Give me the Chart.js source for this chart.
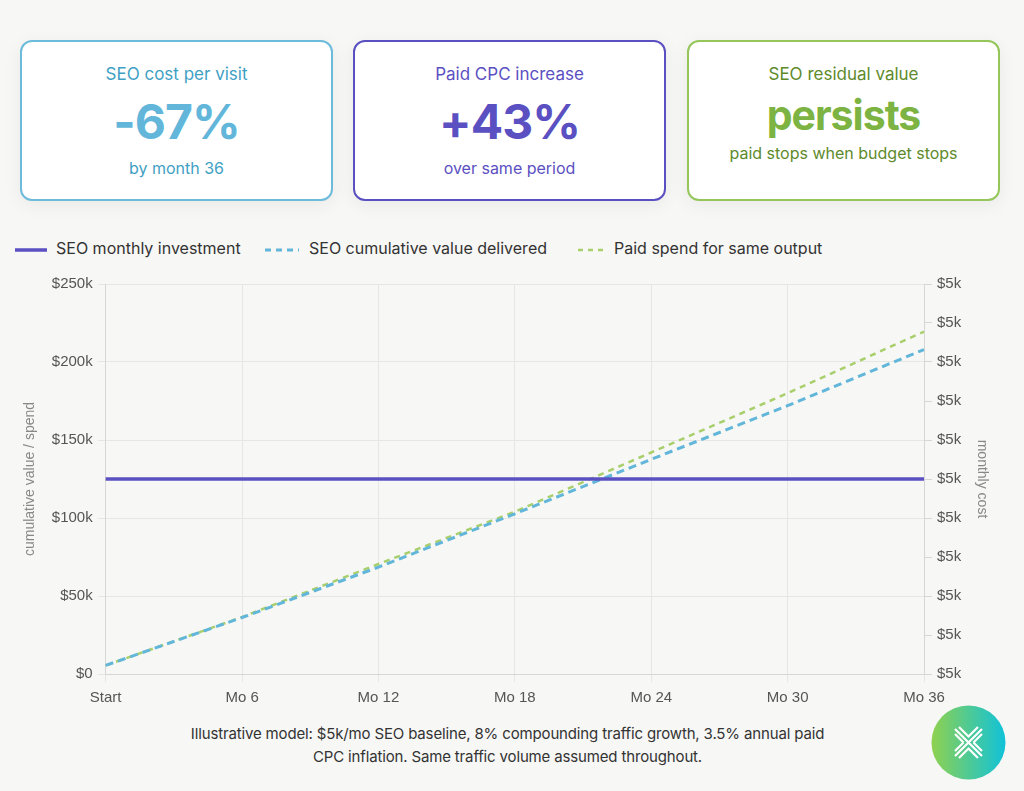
<!DOCTYPE html>
<html>
<head>
<meta charset="utf-8">
<script src="https://cdn.jsdelivr.net/npm/chart.js@4.4.1/dist/chart.umd.min.js"></script>
<style>
  html, body { margin: 0; padding: 0; }
  body {
    width: 1024px; height: 791px; overflow: hidden;
    background: #f7f7f5; position: relative;
    font-family: Inter, "Noto Sans", sans-serif;
  }
  .card {
    position: absolute; top: 40px; width: 313px; height: 161px;
    background: #fff; border: 2px solid; border-radius: 12px;
    box-shadow: 0 4px 18px rgba(0,0,0,0.06);
    text-align: center; box-sizing: border-box;
  }
  .card .t { position: absolute; left: 0; right: 0; top: 22px; font-size: 17px; }
  .card .v { position: absolute; left: 0; right: 0; top: 50px; font-size: 48px; font-weight: 700; letter-spacing: -1px; }
  .card .s { position: absolute; left: 0; right: 0; top: 116px; font-size: 16px; }
  #legend { position: absolute; left: 15px; top: 238px; font-size: 16px; color: #333; white-space: nowrap; }
  #legend svg { position: absolute; top: 9px; }
  #legend span.lbl { position: absolute; top: 0; }
  #wrap { position: absolute; left: 0; top: 270px; width: 1024px; height: 444px; }
  #caption {
    position: absolute; left: 100px; width: 815px; top: 722px;
    text-align: center; font-size: 15px; line-height: 23px; color: #333;
    letter-spacing: -0.15px; white-space: nowrap;
  }
  #logo { position: absolute; left: 931px; top: 705px; width: 75px; height: 75px; }
</style>
</head>
<body>

<div class="card" style="left:20px; border-color:#6dbbdb;">
  <div class="t" style="color:#3f9fc4;">SEO cost per visit</div>
  <div class="v" style="color:#62b6da;">-67%</div>
  <div class="s" style="color:#3f9fc4;">by month 36</div>
</div>
<div class="card" style="left:353px; border-color:#5b50c2;">
  <div class="t" style="color:#5b50c2;">Paid CPC increase</div>
  <div class="v" style="color:#5b50c2;">+43%</div>
  <div class="s" style="color:#5b50c2;">over same period</div>
</div>
<div class="card" style="left:687px; border-color:#94c65a;">
  <div class="t" style="color:#5e8a2c;">SEO residual value</div>
  <div class="v" style="color:#7cb342; font-size:41px; top:48px;">persists</div>
  <div class="s" style="color:#5e8a2c; top:101px;">paid stops when budget stops</div>
</div>

<div id="legend">
  <svg style="left:0" width="34" height="6"><line x1="0" y1="3" x2="32" y2="3" stroke="#5b50c2" stroke-width="3.5"/></svg>
  <span class="lbl" style="left:41px">SEO monthly investment</span>
  <svg style="left:250px" width="34" height="6"><line x1="0" y1="3" x2="34" y2="3" stroke="#62b6da" stroke-width="3" stroke-dasharray="6,5"/></svg>
  <span class="lbl" style="left:294px">SEO cumulative value delivered</span>
  <svg style="left:563px" width="34" height="6"><line x1="0" y1="3" x2="30" y2="3" stroke="#a8cf6b" stroke-width="2.5" stroke-dasharray="5,5"/></svg>
  <span class="lbl" style="left:599px">Paid spend for same output</span>
</div>

<div id="wrap"><canvas id="myChart"></canvas></div>

<div id="caption">Illustrative model: $5k/mo SEO baseline, 8% compounding traffic growth, 3.5% annual paid<br>CPC inflation. Same traffic volume assumed throughout.</div>

<svg id="logo" viewBox="0 0 75 75">
  <defs>
    <linearGradient id="lg" x1="0" y1="0" x2="1" y2="0">
      <stop offset="0" stop-color="#8fd14f"/>
      <stop offset="1" stop-color="#10c2d9"/>
    </linearGradient>
  </defs>
  <circle cx="37.5" cy="37.5" r="37" fill="url(#lg)"/>
  <g stroke="#fff" stroke-width="2.2" fill="none">
    <polyline points="24,24 37.5,37.5 51,24"/>
    <polyline points="24,51 37.5,37.5 51,51"/>
    <polyline points="28,22 37.5,31.5 47,22"/>
    <polyline points="28,53 37.5,43.5 47,53"/>
    <line x1="24" y1="29" x2="32.5" y2="37.5"/><line x1="32.5" y1="37.5" x2="24" y2="46"/>
    <line x1="51" y1="29" x2="42.5" y2="37.5"/><line x1="42.5" y1="37.5" x2="51" y2="46"/>
  </g>
</svg>

<script>
const months = ['Start', 'Mo 6', 'Mo 12', 'Mo 18', 'Mo 24', 'Mo 30', 'Mo 36'];
const seoMonthly = [5000, 5000, 5000, 5000, 5000, 5000, 5000];
const seoCumulative = [5500, 36200, 68500, 102700, 137600, 172000, 208000];
const paidSpend = [5500, 36500, 70500, 104000, 142000, 180000, 219500];

const tickFont = { family: '"Liberation Sans", Arial, sans-serif', size: 15 };
const titleFont = { family: '"Liberation Sans", Arial, sans-serif', size: 14 };

const config = {
    type: 'line',
    data: {
        labels: months,
        datasets: [{
            label: 'SEO monthly investment',
            data: seoMonthly,
            yAxisID: 'y1',
            borderColor: '#5b50c2',
            borderWidth: 3.5,
            pointRadius: 0,
            tension: 0
        }, {
            label: 'SEO cumulative value delivered',
            data: seoCumulative,
            yAxisID: 'y',
            borderColor: '#62b6da',
            borderWidth: 3,
            borderDash: [8, 5],
            pointRadius: 0,
            tension: 0
        }, {
            label: 'Paid spend for same output',
            data: paidSpend,
            yAxisID: 'y',
            borderColor: '#a8cf6b',
            borderWidth: 2.5,
            borderDash: [6, 5],
            pointRadius: 0,
            tension: 0
        }]
    },
    options: {
        responsive: true,
        maintainAspectRatio: false,
        animation: false,
        layout: { padding: { left: 18, right: 30, top: 12, bottom: 0 } },
        plugins: {
            legend: { display: false },
            tooltip: { enabled: false }
        },
        scales: {
            x: {
                grid: { color: '#e6e6e4', tickLength: 8 },
                border: { color: '#d6d6d4' },
                ticks: { color: '#555', font: tickFont, padding: 7 }
            },
            y: {
                position: 'left',
                min: 0,
                max: 250000,
                grid: { color: '#e6e6e4', tickLength: 8 },
                border: { color: '#d6d6d4' },
                ticks: {
                    stepSize: 50000,
                    color: '#555',
                    font: tickFont,
                    padding: 5,
                    callback: function (v) { return v === 0 ? '$0' : '$' + (v / 1000) + 'k'; }
                },
                title: { display: true, text: 'cumulative value / spend', color: '#888', font: titleFont, padding: { top: 4, bottom: 8 } }
            },
            y1: {
                position: 'right',
                min: 4750,
                max: 5250,
                grid: { drawOnChartArea: false, color: '#d6d6d4', tickLength: 8 },
                border: { color: '#d6d6d4' },
                ticks: {
                    stepSize: 50,
                    color: '#555',
                    font: tickFont,
                    padding: 5,
                    callback: function (v) { return '$' + Math.round(v / 1000) + 'k'; }
                },
                title: { display: true, text: 'monthly cost', color: '#888', font: titleFont, padding: { top: 4, bottom: 7 } }
            }
        }
    }
};

const myChart = new Chart(document.getElementById('myChart'), config);
</script>
</body>
</html>
